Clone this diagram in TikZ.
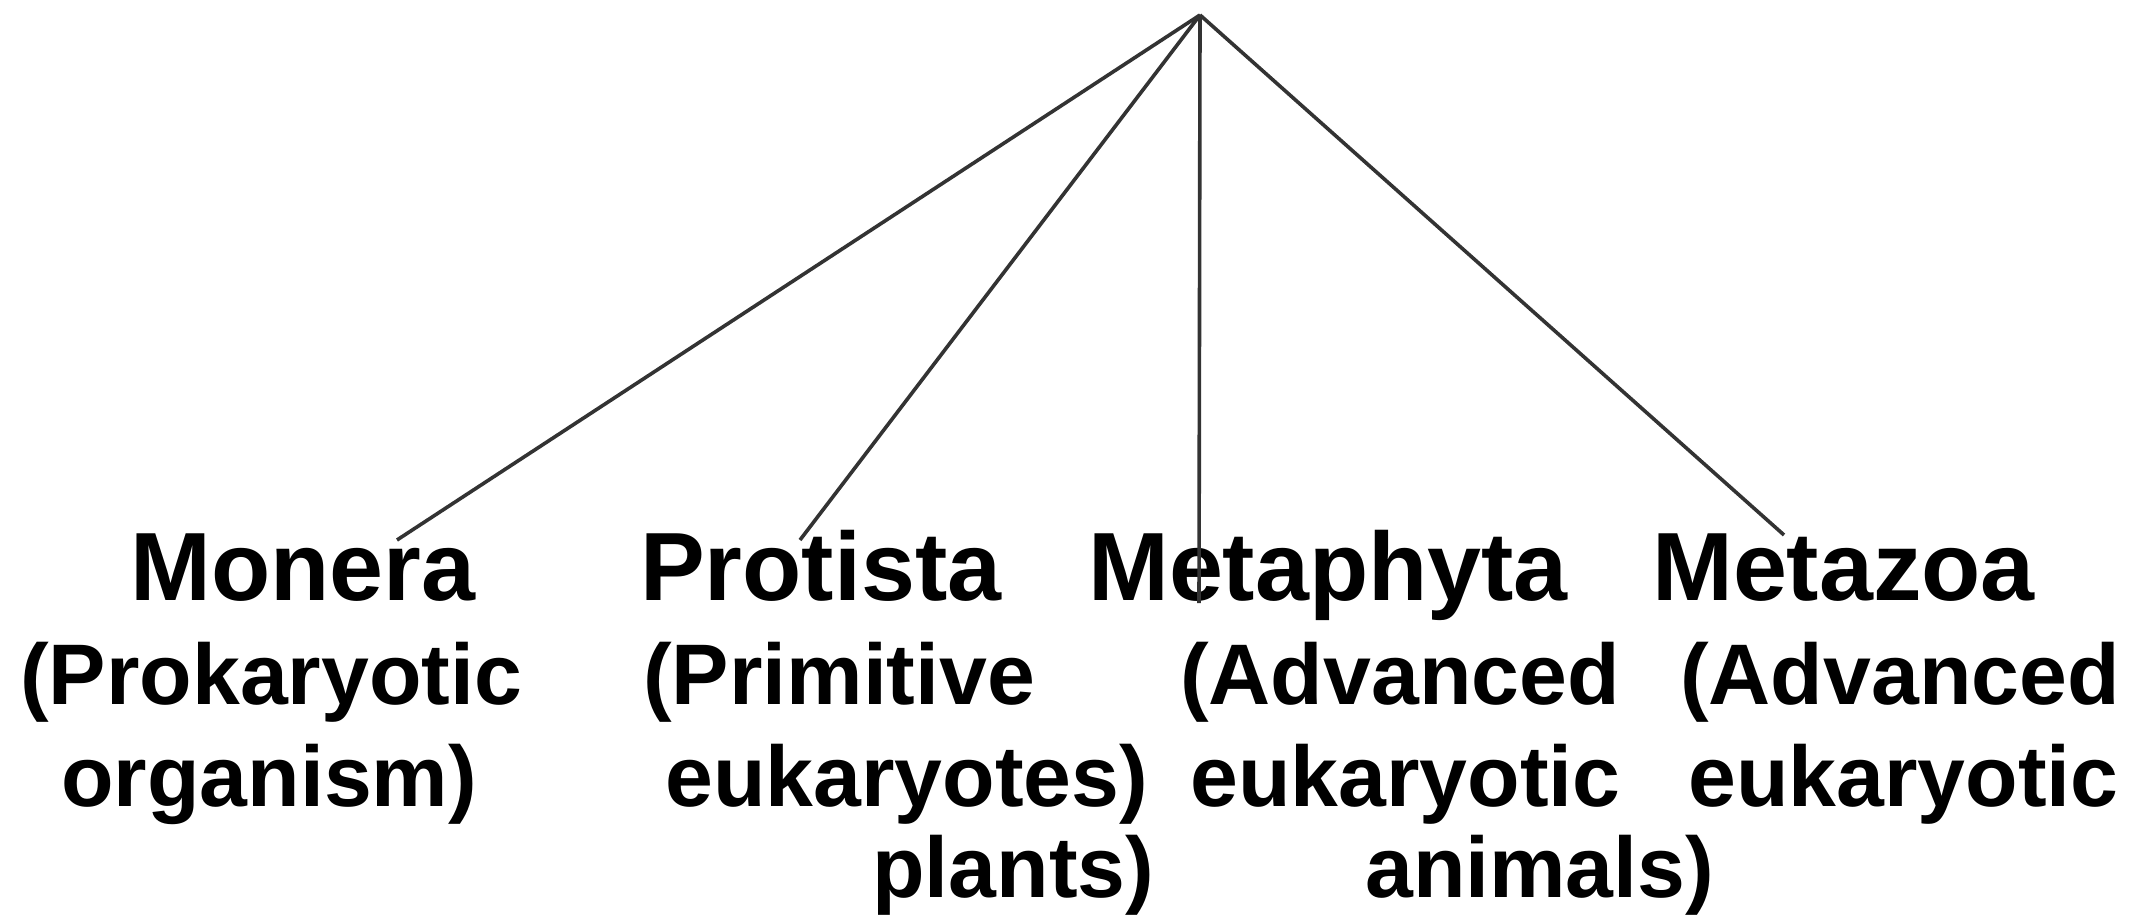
\documentclass[tikz,border=0pt]{standalone}
\usepackage{fontspec}
\setmainfont{Liberation Sans}
\begin{document}
\begin{tikzpicture}[x=1pt,y=-1pt,
  head/.style={anchor=base west,inner sep=0pt,font=\bfseries\fontsize{97}{100}\selectfont},
  sub/.style={anchor=base west,inner sep=0pt,font=\bfseries\fontsize{86}{90}\selectfont},
  branch/.style={line width=3.6pt,draw=black!80}]
\useasboundingbox (0,0) rectangle (2134,915);
\fill[white] (0,0) rectangle (2134,915);
% headings
\node[head] (monera) at (130,600) {Monera};
\node[head] (protista) at (640,600) {Protista};
\node[head] (metaphyta) at (1088,600) {Metaphyta};
\node[head] (metazoa) at (1652,600) {Metazoa};
% descriptions
\node[sub] (mon1) at (20,704) {(Prokaryotic};
\node[sub] (mon2) at (61,806) {organism)};
\node[sub] (pro1) at (643,704) {(Primitive};
\node[sub] (pro2) at (665,806) {eukaryotes)};
\node[sub] (pro3) at (872,897) {plants)};
\node[sub] (mph1) at (1180,704) {(Advanced};
\node[sub] (mph2) at (1190,806) {eukaryotic};
\node[sub] (mph3) at (1365,897) {animals)};
\node[sub] (mzo1) at (1680,704) {(Advanced};
\node[sub] (mzo2) at (1688,806) {eukaryotic};
% connectors
\coordinate (apex) at (1200,15);
\coordinate (endmon) at (397,540);
\coordinate (endpro) at (800,540);
\coordinate (endmph) at (1199,603);
\coordinate (endmzo) at (1784,535);
\draw[branch] (apex) -- (endmon);
\draw[branch] (apex) -- (endpro);
\draw[branch] (apex) -- (endmph);
\draw[branch] (apex) -- (endmzo);
\end{tikzpicture}
\end{document}
